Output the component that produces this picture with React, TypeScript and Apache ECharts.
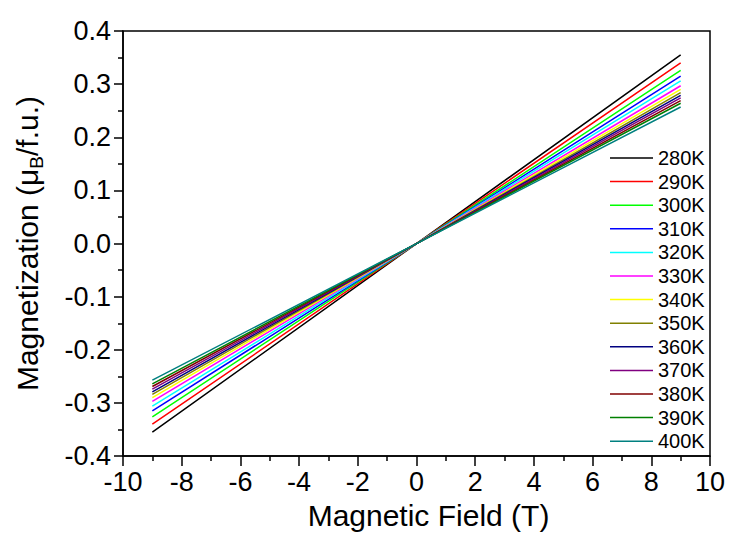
import React, { useEffect, useRef } from "react";
import * as echarts from "echarts";

const temperatures = ["280K", "290K", "300K", "310K", "320K", "330K", "340K", "350K", "360K", "370K", "380K", "390K", "400K"];
// magnetization (μB/f.u.) at H = +9 T (line is antisymmetric, passes through origin)
const mAt9T = [0.355, 0.34, 0.326, 0.315, 0.306, 0.297, 0.29, 0.284, 0.279, 0.274, 0.269, 0.264, 0.257];
const fieldPoints = [-9, 0, 9];
const colors = ["#000000", "#FF0000", "#00FF00", "#0000FF", "#00FFFF", "#FF00FF", "#FFFF00", "#808000", "#000080", "#800080", "#800000", "#008000", "#008080"];
const xTicks = { min: -10, max: 10, interval: 2 };
const yTicks = { min: -0.4, max: 0.4, interval: 0.1 };

export default function App() {
  const ref = useRef<HTMLDivElement>(null);
  useEffect(() => {
    if (!ref.current) return;
    const chart = echarts.init(ref.current, null, { renderer: "svg" });
    const font = "Liberation Sans, Arial, sans-serif";
    const series = temperatures.map((t, i) => ({
      name: t,
      type: "line",
      showSymbol: false,
      symbol: "none",
      color: colors[i],
      lineStyle: { width: 1.5, color: colors[i] },
      data: fieldPoints.map((h) => [h, (mAt9T[i] * h) / 9]),
    }));
    chart.setOption({
      animation: false,
      backgroundColor: "#fff",
      textStyle: { fontFamily: font },
      grid: { left: 123, right: 20, top: 31, bottom: 76, show: true, borderColor: "#000", borderWidth: 1.5, backgroundColor: "transparent" },
      legend: {
        orient: "vertical",
        left: 605,
        top: 143,
        icon: "rect",
        itemWidth: 43,
        itemHeight: 1.5,
        itemGap: 3.6,
        textStyle: { fontSize: 20, lineHeight: 20, color: "#000", fontFamily: font },
        data: temperatures,
      },
      xAxis: {
        type: "value",
        min: xTicks.min,
        max: xTicks.max,
        interval: xTicks.interval,
        name: "Magnetic Field (T)",
        nameLocation: "middle",
        nameGap: 38,
        nameTextStyle: { fontSize: 30, color: "#000", fontFamily: font, padding: [0, 0, 0, 24] },
        axisLine: { onZero: false, lineStyle: { color: "#000", width: 1.5 } },
        axisTick: { inside: false, length: 10, lineStyle: { color: "#000", width: 1.5 } },
        minorTick: { show: true, splitNumber: 2, length: 5, lineStyle: { color: "#000", width: 1.5 } },
        splitLine: { show: false },
        axisLabel: { fontSize: 27, color: "#000", margin: 12, fontFamily: font },
      },
      yAxis: {
        type: "value",
        min: yTicks.min,
        max: yTicks.max,
        interval: yTicks.interval,
        name: "Magnetization (μ{sub|B}/f.u.)",
        nameLocation: "middle",
        nameGap: 77,
        nameTextStyle: {
          fontSize: 30,
          color: "#000",
          fontFamily: font,
          lineHeight: 38,
          rich: {
            sub: { fontSize: 19, lineHeight: 21, verticalAlign: "bottom", color: "#000", fontFamily: font },
          },
        },
        axisLine: { onZero: false, lineStyle: { color: "#000", width: 1.5 } },
        axisTick: { inside: false, length: 9, lineStyle: { color: "#000", width: 1.5 } },
        minorTick: { show: true, splitNumber: 2, length: 5, lineStyle: { color: "#000", width: 1.5 } },
        splitLine: { show: false },
        axisLabel: { fontSize: 27, color: "#000", margin: 12, fontFamily: font, formatter: (v: number) => v.toFixed(1) },
      },
      series,
    });
    return () => chart.dispose();
  }, []);
  return <div ref={ref} style={{ width: 730, height: 535, position: "absolute", left: 0, top: 0 }} />;
}
